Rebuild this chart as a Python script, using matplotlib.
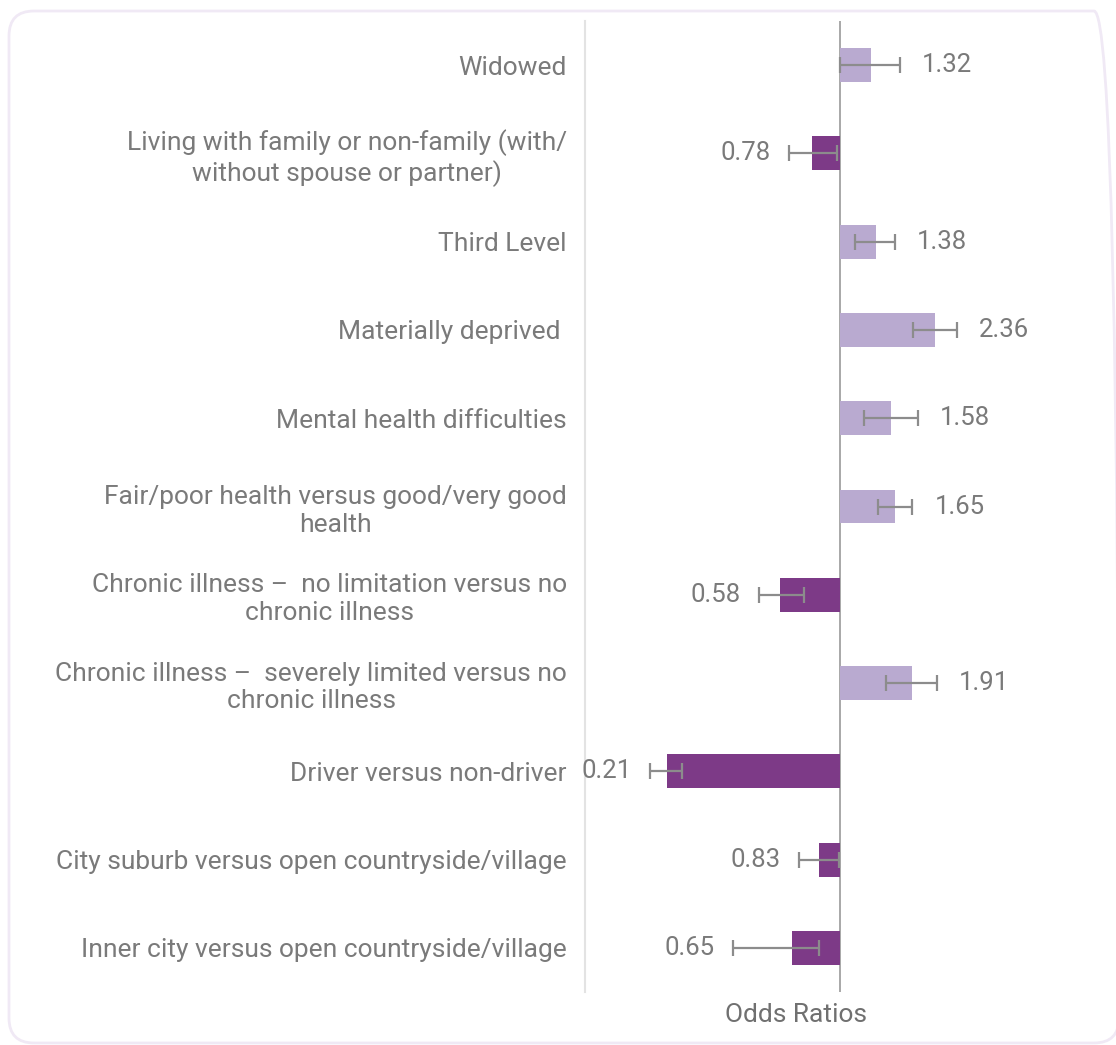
import numpy as np
import matplotlib.pyplot as plt
from matplotlib.patches import FancyBboxPatch

plt.rcParams['font.family'] = ['Roboto', 'DejaVu Sans']

# data, top to bottom
labels = [
    "Widowed",
    "Living with family or non-family (with/\nwithout spouse or partner)",
    "Third Level",
    "Materially deprived ",
    "Mental health difficulties",
    "Fair/poor health versus good/very good\nhealth",
    "Chronic illness \u2013  no limitation versus no\nchronic illness",
    "Chronic illness \u2013  severely limited versus no\nchronic illness",
    "Driver versus non-driver",
    "City suburb versus open countryside/village",
    "Inner city versus open countryside/village",
]
odds = [1.32, 0.78, 1.38, 2.36, 1.58, 1.65, 0.58, 1.91, 0.21, 0.83, 0.65]
ci_low = [1.00, 0.63, 1.15, 1.93, 1.24, 1.41, 0.48, 1.52, 0.18, 0.69, 0.38]
ci_high = [1.72, 0.97, 1.64, 2.88, 2.02, 1.92, 0.72, 2.40, 0.24, 0.99, 0.83]

LIGHT = '#b9aad0'
DARK = '#7d3a87'
GREY = '#8c8c8c'
TEXT = '#7a7a7a'

W, H = 1116, 1045
fig = plt.figure(figsize=(W / 100, H / 100), dpi=100)
ax = fig.add_axes([585 / W, 1 - 992 / H, (1095 - 585) / W, (992 - 21) / H])

odds = np.array(odds)
lo = np.array(ci_low)
hi = np.array(ci_high)
y = np.arange(len(odds))
colors = [LIGHT if o >= 1 else DARK for o in odds]

ax.barh(y, odds - 1, left=1, height=0.385, color=colors, zorder=2)
ax.errorbar(odds, y, xerr=[odds - lo, hi - odds], fmt='none', ecolor=GREY,
            elinewidth=1.6, capsize=5.8, capthick=1.6, zorder=3)

for i, o in enumerate(odds):
    if o >= 1:
        ax.annotate(f"{o:.2f}", (hi[i], y[i]), xytext=(16, 0), textcoords='offset points',
                    ha='left', va='center', fontsize=18.5, color=TEXT)
    else:
        ax.annotate(f"{o:.2f}", (lo[i], y[i]), xytext=(-13, 0), textcoords='offset points',
                    ha='right', va='center', fontsize=18.5, color=TEXT)

ax.set_xscale('log')
ax.set_xlim(0.1, 10)
ax.set_ylim(len(odds) - 0.5, -0.5)
ax.axvline(1, color='#999999', lw=1.2, zorder=1)

ax.set_yticks(y)
ax.set_yticklabels(labels, fontsize=19, color=TEXT)
for t in ax.get_yticklabels():
    t.set_multialignment('center')
    t.set_linespacing(1.2)
ax.tick_params(axis='y', length=0, pad=13)
ax.set_xticks([])
ax.xaxis.set_minor_locator(plt.NullLocator())

for s in ['top', 'right', 'bottom']:
    ax.spines[s].set_visible(False)
ax.spines['left'].set_color('#e3e3e3')
ax.spines['left'].set_linewidth(1.5)

fig.text(796 / W, 1 - 1015 / H, "Odds Ratios", ha='center', va='center',
         fontsize=19, color='#707070')

# rounded frame around the chart
frame = FancyBboxPatch((9, 2), 1110, 1032, boxstyle="round,pad=0,rounding_size=25",
                       transform=None, fill=False, edgecolor='#f0e9f5', linewidth=2)
fig.patches.append(frame)

fig.savefig('out.png', dpi=100)
